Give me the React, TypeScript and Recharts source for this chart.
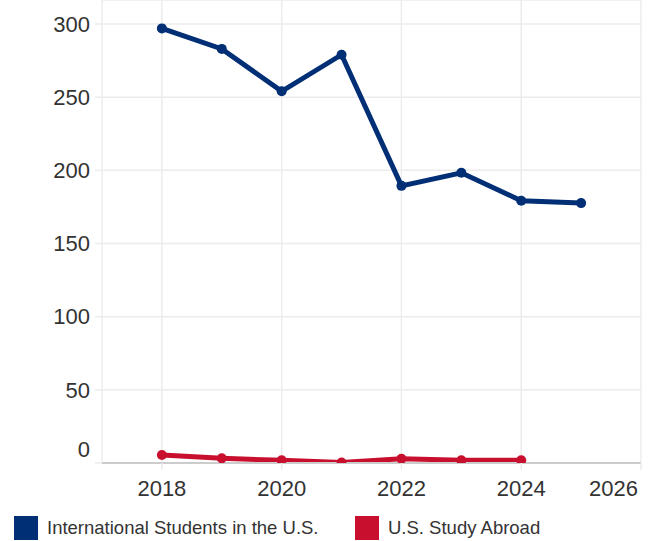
import React from "react";
import { LineChart, Line, XAxis, YAxis, CartesianGrid, Legend } from "recharts";

const years = [2018, 2019, 2020, 2021, 2022, 2023, 2024, 2025];
const intlStudents = [297, 283, 254, 279, 189.4, 198.3, 179.2, 177.6];
const studyAbroad: (number | null)[] = [5.5, 3.2, 1.8, 0.3, 2.9, 1.8, 1.8, null];
const xTicks = [2018, 2020, 2022, 2024, 2026];
const yTicks = [0, 50, 100, 150, 200, 250, 300];

const seriesNames = ["International Students in the U.S.", "U.S. Study Abroad"];
const seriesColors = ["#002F75", "#C8102E"];

const data = years.map((y, i) => ({
  year: y,
  intl: intlStudents[i],
  abroad: studyAbroad[i],
}));

const FONT = "'Liberation Sans', Arial, sans-serif";

const YTick = (props: any) => {
  const { x, y, payload } = props;
  const shift = payload.value === 0 ? -14 : 0;
  return (
    <text x={x} y={y + shift} dy="0.355em" textAnchor="end" fill="#333" fontSize={22} fontFamily={FONT}>
      {payload.value}
    </text>
  );
};

const XTick = (props: any) => {
  const { x, y, payload } = props;
  const last = payload.value === 2026;
  return (
    <text x={last ? x - 3 : x} y={y} dy="0.71em" textAnchor={last ? "end" : "middle"} fill="#333" fontSize={22} fontFamily={FONT}>
      {payload.value}
    </text>
  );
};

const LegendContent = () => (
  <div style={{ position: "relative", width: 657, height: 38, fontFamily: FONT }}>
    {seriesNames.map((n, i) => (
      <div
        key={n}
        style={{ position: "absolute", left: i === 0 ? 14 : 355, top: 13, display: "flex", alignItems: "center", height: 24 }}
      >
        <div style={{ width: 24, height: 24, background: seriesColors[i] }} />
        <span style={{ marginLeft: 9, fontSize: 18.5, color: "#333", whiteSpace: "nowrap" }}>{n}</span>
      </div>
    ))}
  </div>
);

export default function App() {
  return (
    <div style={{ position: "absolute", left: 0, top: 0, width: 657, height: 541, background: "#fff" }}>
      <LineChart width={657} height={541} data={data} margin={{ top: 0, right: 16, left: 0, bottom: 0 }}>
        <CartesianGrid stroke="#ececec" strokeWidth={1.5} vertical={true} horizontal={true} />
        <XAxis
          dataKey="year"
          type="number"
          domain={[2017, 2026]}
          ticks={xTicks}
          height={40}
          axisLine={{ stroke: "#cccccc", strokeWidth: 2 }}
          tickLine={{ stroke: "#ececec", strokeWidth: 1.5 }}
          tickSize={7}
          tickMargin={10}
          tick={<XTick />}
          allowDecimals={false}
        />
        <YAxis
          type="number"
          domain={[0, 316.4]}
          ticks={yTicks}
          width={102}
          axisLine={false}
          tickLine={{ stroke: "#ececec", strokeWidth: 1.5 }}
          tickSize={7}
          tickMargin={5}
          tick={<YTick />}
          allowDataOverflow
        />
        <Legend verticalAlign="bottom" height={38} content={<LegendContent />} wrapperStyle={{ left: 0, width: 657 }} />
        <Line
          dataKey="intl"
          name={seriesNames[0]}
          stroke={seriesColors[0]}
          strokeWidth={5}
          dot={{ r: 5, fill: seriesColors[0], stroke: seriesColors[0], strokeWidth: 0 }}
          isAnimationActive={false}
        />
        <Line
          dataKey="abroad"
          name={seriesNames[1]}
          stroke={seriesColors[1]}
          strokeWidth={5}
          dot={{ r: 5, fill: seriesColors[1], stroke: seriesColors[1], strokeWidth: 0 }}
          isAnimationActive={false}
        />
      </LineChart>
    </div>
  );
}
